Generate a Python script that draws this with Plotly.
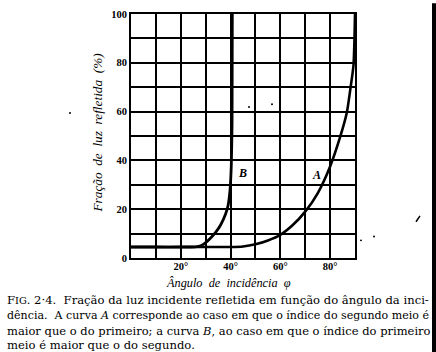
import plotly.graph_objects as go

# ---- data ----
angle_B = [0, 10, 20, 26, 28, 30, 32, 34, 36, 38, 39, 39.8, 40.3, 40.6, 40.7]
refl_B = [4.5, 4.5, 4.5, 4.6, 5.0, 6.3, 8.2, 10.5, 13.5, 18.0, 21.5, 28.0, 38.0, 55.0, 100.0]

angle_A = [0, 20, 40, 45, 50, 55, 60, 65, 70, 75, 80, 84, 86.7, 88.1, 89.4, 89.8, 90]
refl_A = [4.5, 4.5, 4.5, 4.7, 5.6, 7.2, 9.5, 13.5, 19.0, 26.5, 37.5, 49.5, 59.5, 69.0, 79.0, 90.0, 100.0]

x_ticks = [0, 10, 20, 30, 40, 50, 60, 70, 80, 90]
x_ticktext = ["", "", "20°", "", "40°", "", "60°", "", "80°", ""]
y_ticks = [0, 10, 20, 30, 40, 50, 60, 70, 80, 90, 100]
y_ticktext = ["0", "", "20", "", "40", "", "60", "", "80", "", "100"]

curve_labels = ["A", "B"]
label_pos_x = [74.7, 44.6]
label_pos_y = [34.0, 34.8]

caption_lines = [
    "F<span style='font-size:9.8px'>IG</span>. 2·4.  Fração da luz incidente refletida em função do ângulo da inci-",
    "dência.  A curva <i>A</i> corresponde ao caso em que o índice do segundo meio é",
    "maior que o do primeiro; a curva <i>B</i>, ao caso em que o índice do primeiro",
    "meio é maior que o do segundo.",
]

W, H = 436, 352
L, R, T, B = 131, 355, 9, 258


def px(xp):
    return (xp - L) / (R - L)


def py(yp):
    return (B - yp) / (B - T)


fig = go.Figure()
fig.add_trace(go.Scatter(x=angle_A, y=refl_A, mode="lines",
                         line=dict(color="black", width=2.6, shape="spline", smoothing=0.6),
                         hoverinfo="skip", showlegend=False))
fig.add_trace(go.Scatter(x=angle_B, y=refl_B, mode="lines",
                         line=dict(color="black", width=2.8, shape="spline", smoothing=0.5),
                         hoverinfo="skip", showlegend=False))

serif = "Liberation Serif"

for t, xx, yy in zip(curve_labels, label_pos_x, label_pos_y):
    fig.add_annotation(x=xx, y=yy, text="<i><b>" + t + "</b></i>", showarrow=False,
                       font=dict(family=serif, size=12, color="black"))

# axis titles
fig.add_annotation(xref="paper", yref="paper", x=px(228), y=py(284), xanchor="center",
                   yanchor="middle", text="<i>Ângulo  de  incidência  φ</i>", showarrow=False,
                   font=dict(family=serif, size=12.3, color="black"))
fig.add_annotation(xref="paper", yref="paper", x=px(98), y=py(130), xanchor="center",
                   yanchor="middle", text="<i>Fração  de  luz  refletida  (%)</i>",
                   showarrow=False, textangle=-90,
                   font=dict(family=serif, size=13.3, color="black"))

# caption
cap_y = [301, 317, 332, 347]
cap_size = [11.6, 11.05, 11.5, 11.6]
for line, yy, sz in zip(caption_lines, cap_y, cap_size):
    fig.add_annotation(xref="paper", yref="paper", x=px(5), y=py(yy), xanchor="left",
                       yanchor="middle", align="left", text=line, showarrow=False,
                       font=dict(family="DejaVu Serif", size=sz, color="black"))

# scan edge bar on the right and stray marks
fig.add_shape(type="rect", xref="paper", yref="paper", x0=px(432), x1=px(437), y0=py(-2), y1=py(354),
              fillcolor="black", line=dict(width=0), layer="above")
fig.add_shape(type="line", xref="paper", yref="paper", x0=px(416), y0=py(221), x1=px(420), y1=py(215),
              line=dict(color="black", width=1.5))
for (dx, dy) in [(70, 110), (249, 104), (272, 101), (361, 240), (374, 236)]:
    fig.add_shape(type="circle", xref="paper", yref="paper", x0=px(dx - 1), x1=px(dx + 1),
                  y0=py(dy + 1), y1=py(dy - 1), fillcolor="black", line=dict(width=0))

tickfont = dict(family=serif, size=10.5, color="black", weight="bold")
fig.update_xaxes(range=[0, 90], tickvals=x_ticks, ticktext=x_ticktext, showgrid=True,
                 gridcolor="black", gridwidth=1.8, showline=True, linecolor="black", linewidth=2,
                 mirror=True, ticks="", tickfont=tickfont, zeroline=False, fixedrange=True,
                 ticklabelstandoff=-3)
fig.update_yaxes(range=[0, 100], tickvals=y_ticks, ticktext=y_ticktext, showgrid=True,
                 gridcolor="black", gridwidth=1.8, showline=True, linecolor="black", linewidth=2,
                 mirror=True, ticks="", tickfont=tickfont, zeroline=False, fixedrange=True)

fig.update_layout(width=W, height=H, margin=dict(l=L, r=W - R, t=T, b=H - B),
                  paper_bgcolor="white", plot_bgcolor="white", showlegend=False)

fig.write_html("out.html", config={"displayModeBar": False})
